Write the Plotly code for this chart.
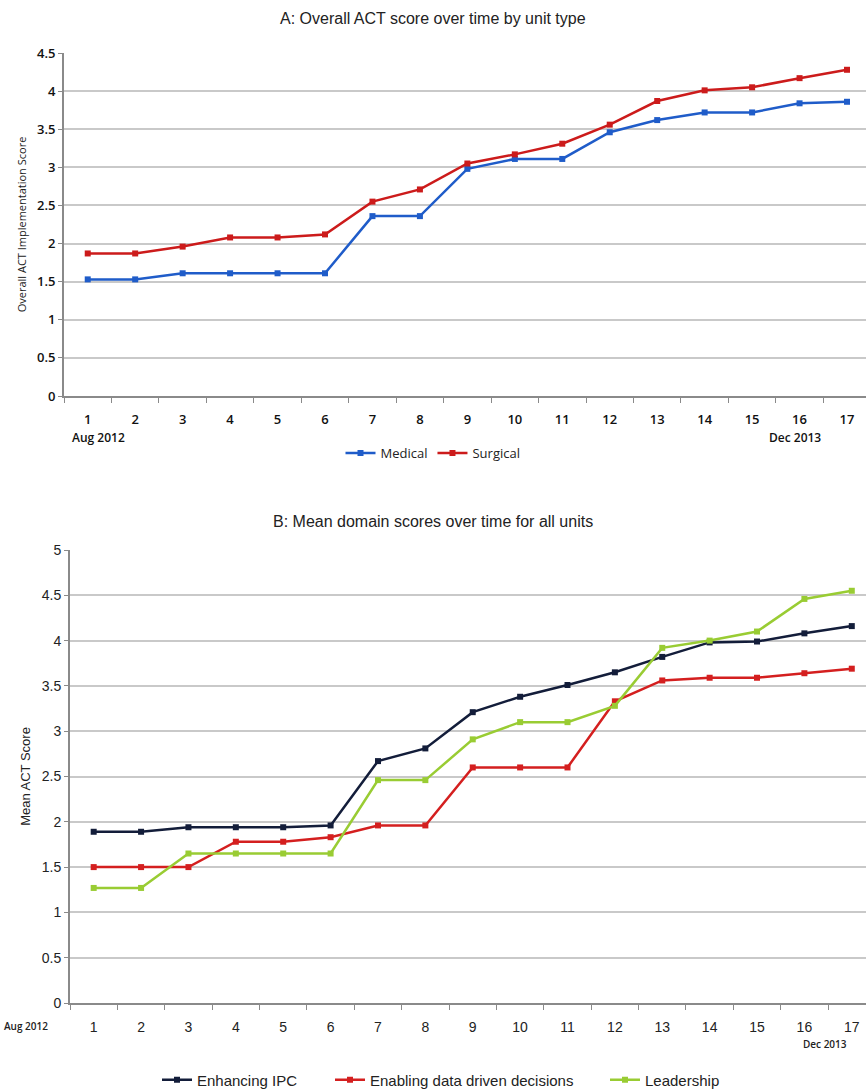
import plotly.graph_objects as go

months = list(range(1, 18))
medical = [1.53, 1.53, 1.61, 1.61, 1.61, 1.61, 2.36, 2.36, 2.98, 3.11, 3.11, 3.46, 3.62, 3.72, 3.72, 3.84, 3.86]
surgical = [1.87, 1.87, 1.96, 2.08, 2.08, 2.12, 2.55, 2.71, 3.05, 3.17, 3.31, 3.56, 3.87, 4.01, 4.05, 4.17, 4.28]

ipc = [1.89, 1.89, 1.94, 1.94, 1.94, 1.96, 2.67, 2.81, 3.21, 3.38, 3.51, 3.65, 3.82, 3.98, 3.99, 4.08, 4.16]
data_driven = [1.50, 1.50, 1.50, 1.78, 1.78, 1.83, 1.96, 1.96, 2.60, 2.60, 2.60, 3.33, 3.56, 3.59, 3.59, 3.64, 3.69]
leadership = [1.27, 1.27, 1.65, 1.65, 1.65, 1.65, 2.46, 2.46, 2.91, 3.10, 3.10, 3.28, 3.92, 4.00, 4.10, 4.46, 4.55]

FA = "Open Sans"
FB = "Liberation Sans"

fig = go.Figure()

def add(x, y, name, color, xa, ya, legend):
    fig.add_trace(go.Scatter(
        x=x, y=y, name=name, mode="lines+markers",
        line=dict(color=color, width=2.5),
        marker=dict(symbol="square", size=6, color=color),
        xaxis=xa, yaxis=ya, legend=legend))

add(months, medical, "Medical", "#1f5cc9", "x", "y", "legend")
add(months, surgical, "Surgical", "#cc1b1b", "x", "y", "legend")
add(months, ipc, "Enhancing IPC", "#131d3a", "x2", "y2", "legend2")
add(months, data_driven, "Enabling data driven decisions", "#d41f1f", "x2", "y2", "legend3")
add(months, leadership, "Leadership", "#99cc33", "x2", "y2", "legend4")

grid = "#c9c9c9"
axcol = "#8a8a8a"

def xaxis(dom, rng, anchor, font):
    return dict(domain=dom, range=rng, anchor=anchor, tickvals=months,
                ticktext=[str(m) for m in months], ticks="", showgrid=False,
                showline=True, linecolor=axcol, linewidth=2, zeroline=False,
                tickfont=font, ticklabelstandoff=10,
                minor=dict(tickvals=[m + 0.5 for m in range(0, 17)], ticks="outside",
                           ticklen=5, tickcolor=axcol, showgrid=False))

def yaxis(dom, rng, anchor, font, title, tfont):
    return dict(domain=dom, range=rng, anchor=anchor, dtick=0.5, showgrid=True,
                gridcolor=grid, gridwidth=2, showline=True, linecolor=axcol,
                linewidth=2, ticks="outside", ticklen=4, tickcolor=axcol,
                zeroline=False, tickfont=font,
                title=dict(text=title, font=tfont, standoff=8))

def leg(x, y, font):
    return dict(orientation="h", x=x, xanchor="left", y=y, yanchor="middle",
                font=font, itemwidth=30, bgcolor="rgba(0,0,0,0)")

fB = dict(family=FB, size=15, color="#222")
fA = dict(family=FA, size=13, color="#111", weight=600)

fig.update_layout(
    width=866, height=1091,
    margin=dict(l=0, r=0, t=0, b=0, autoexpand=False),
    paper_bgcolor="white", plot_bgcolor="white",
    xaxis=xaxis([64/866, 1.0], [0.5, 17.4], "y", fA),
    yaxis=yaxis([1 - 396/1091, 1 - 53/1091], [0, 4.5], "x", fA,
                "Overall ACT Implementation Score", dict(family=FA, size=11, color="#222")),
    xaxis2=xaxis([70/866, 1.0], [0.5, 17.3], "y2", dict(family=FB, size=14, color="#222")),
    yaxis2=yaxis([1 - 1003/1091, 1 - 550/1091], [0, 5], "x2",
                 dict(family=FB, size=14, color="#222"),
                 "Mean ACT Score", dict(family=FB, size=13, color="#222")),
    legend=dict(orientation="h", x=0.5, xanchor="center", y=1 - 453/1091, yanchor="middle",
                font=dict(family=FA, size=13, color="#222"), itemwidth=30,
                bgcolor="rgba(0,0,0,0)"),
    legend2=leg(157/866, 1 - 1080/1091, fB),
    legend3=leg(330/866, 1 - 1080/1091, fB),
    legend4=leg(605/866, 1 - 1080/1091, fB),
    showlegend=True,
)

fig.add_annotation(text="A: Overall ACT score over time by unit type", x=0.5, y=1 - 18/1091,
                   xref="paper", yref="paper", showarrow=False, xanchor="center", yanchor="middle",
                   font=dict(family=FB, size=16, color="#222"))
fig.add_annotation(text="B: Mean domain scores over time for all units", x=0.5, y=1 - 521/1091,
                   xref="paper", yref="paper", showarrow=False, xanchor="center", yanchor="middle",
                   font=dict(family=FB, size=16, color="#222"))
fig.add_annotation(text="Aug 2012", x=70/866, y=1 - 437/1091, xref="paper", yref="paper",
                   showarrow=False, xanchor="left", yanchor="middle",
                   font=dict(family=FA, size=12, color="#111", weight=600))
fig.add_annotation(text="Dec 2013", x=795/866, y=1 - 437/1091, xref="paper", yref="paper",
                   showarrow=False, xanchor="center", yanchor="middle",
                   font=dict(family=FA, size=12, color="#111", weight=600))
fig.add_annotation(text="Aug 2012", x=2/866, y=1 - 1026/1091, xref="paper", yref="paper",
                   showarrow=False, xanchor="left", yanchor="middle",
                   font=dict(family=FA, size=10, color="#222", weight=600))
fig.add_annotation(text="Dec 2013", x=825/866, y=1 - 1044/1091, xref="paper", yref="paper",
                   showarrow=False, xanchor="center", yanchor="middle",
                   font=dict(family=FA, size=10, color="#222", weight=600))

post = ("document.body.style.margin='0';document.body.style.overflow='hidden';"
        "var d=document.getElementById('{plot_id}');d.style.position='absolute';"
        "d.style.top='0px';d.style.left='0px';")
fig.write_html("out.html", post_script=post, config={"displayModeBar": False})
